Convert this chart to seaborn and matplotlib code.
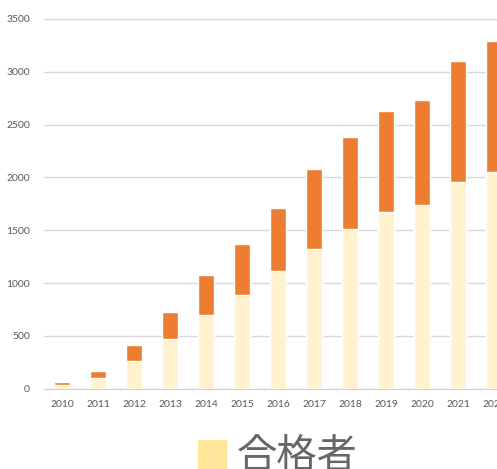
import pandas as pd
import matplotlib.pyplot as plt
import seaborn as sns
from matplotlib.patches import Patch

# values
years = ["2010", "2011", "2012", "2013", "2014", "2015", "2016",
         "2017", "2018", "2019", "2020", "2021", "2022"]
passed = [35, 98, 262, 473, 697, 886, 1110, 1318, 1513, 1674, 1738, 1958, 2050]
total = [60, 170, 416, 729, 1072, 1369, 1709, 2078, 2387, 2633, 2737, 3106, 3289]
yticks = [0, 500, 1000, 1500, 2000, 2500, 3000, 3500]

df = pd.DataFrame({"year": years, "passed": passed, "total": total})

sns.set_style("white")
plt.rcParams["font.family"] = ["Noto Sans CJK JP", "DejaVu Sans"]

fig = plt.figure(figsize=(4.97, 4.69), dpi=100)
ax = fig.add_axes([44 / 497, 80.3 / 469, 468 / 497, 369.7 / 469])

# stacked look: orange total first, light passers drawn over it
sns.barplot(data=df, x="year", y="total", color="#ED7D31", width=0.42,
            saturation=1, ax=ax, zorder=3)
sns.barplot(data=df, x="year", y="passed", color="#FFF2CC", width=0.42,
            saturation=1, ax=ax, zorder=4)

ax.set_xlim(-0.5, 12.5)
ax.set_ylim(0, 3500)
ax.set_yticks(yticks)
ax.set_yticklabels([str(t) for t in yticks])
ax.yaxis.grid(True, color="#D9D9D9", linewidth=1)
ax.set_axisbelow(True)
for s in ["top", "right", "left"]:
    ax.spines[s].set_visible(False)
ax.spines["bottom"].set_color("#D0D0D0")
ax.tick_params(axis="both", length=0, labelsize=7.5, labelcolor="#595959")
ax.tick_params(axis="x", pad=8)
ax.tick_params(axis="y", pad=10)
for lab in ax.get_xticklabels() + ax.get_yticklabels():
    lab.set_family(["Lato", "DejaVu Sans"])
ax.set_xlabel("")
ax.set_ylabel("")

fig.legend(handles=[Patch(color="#FFE699", label="合格者")],
           loc="upper left", bbox_to_anchor=(198 / 497, 33 / 469),
           frameon=False, fontsize=29, labelcolor="#666666",
           handlelength=0.7, handleheight=0.7, handletextpad=0.25,
           borderpad=0, borderaxespad=0)

fig.savefig("out.png", dpi=100)
